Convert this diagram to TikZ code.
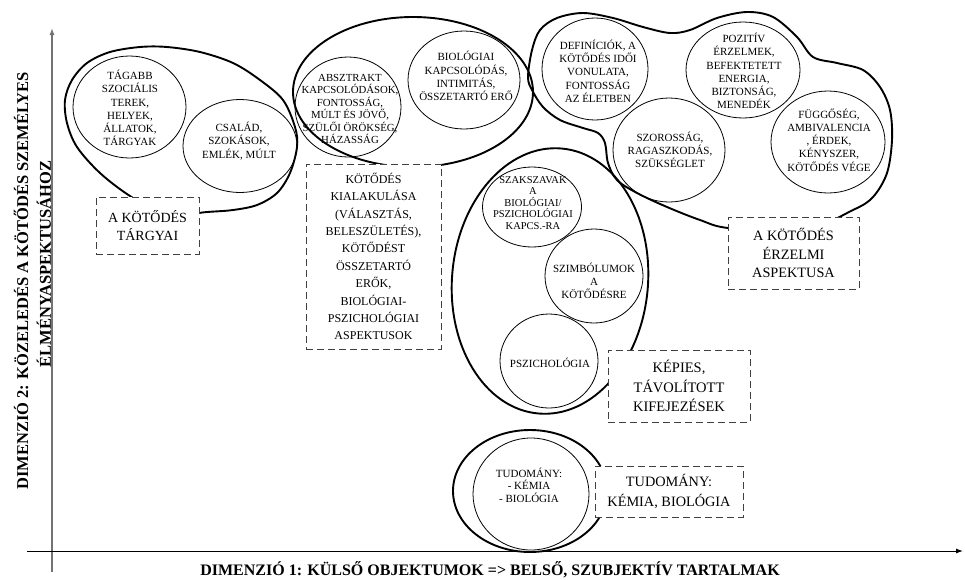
\documentclass[tikz,border=0pt]{standalone}
\usepackage{fontspec}
\setmainfont{Liberation Serif}
\usetikzlibrary{arrows.meta}

\begin{document}
\begin{tikzpicture}[x=1pt,y=-1pt,
		bubble/.style={line width=0.8pt},
		outer/.style={line width=1.9pt},
		inside/.style={align=center,inner sep=0pt,font=\fontsize{11}{13.3}\selectfont},
		note/.style={draw=black!75,dash pattern=on 7pt off 4pt,line width=1pt,fill=white,align=center,inner sep=0pt},
		axis/.style={line width=1pt,-{Latex[length=7pt,width=5pt]}},
		dimlabel/.style={rotate=90,font=\bfseries\fontsize{16.5}{20}\selectfont}]
				\useasboundingbox (0,0) rectangle (965,579);
				
				% axes
				\coordinate (O1) at (27,551);
				\coordinate (X) at (963,551);
				\coordinate (O2) at (52,572);
				\coordinate (Y) at (52,28);
				\draw[axis,black!55,line width=1.3pt] (O2) -- (Y);
				\draw[axis] (O1) -- (X);
				\node[font=\bfseries\fontsize{16}{19}\selectfont,anchor=base] (dimx) at (490,575)
					{DIMENZIÓ 1: KÜLSŐ OBJEKTUMOK => BELSŐ, SZUBJEKTÍV TARTALMAK};
				\node[dimlabel] (dimy) at (21,281) {DIMENZIÓ 2: KÖZELEDÉS A KÖTŐDÉS SZEMÉLYES};
				\node[dimlabel] (dimyb) at (44,264) {ÉLMÉNYASPEKTUSÁHOZ};
				
				% outer groups
				\draw[outer] plot[smooth cycle,tension=0.55] coordinates {(207,212) (233,210) (257,205)
					(277,193) (290,173) (297,147) (295,127) (283,100) (260,80) (233,63) (200,52) (167,47)
					(140,47) (110,52) (87,63) (72,80) (65,100) (67,123) (77,147) (100,173) (130,196) (165,215)};
				\draw[outer] (413,92) ellipse [x radius=120pt, y radius=75pt];
				\draw[outer] plot[smooth cycle,tension=0.55] coordinates {(528,77) (532,50) (540,30) (557,18)
					(583,13) (613,18) (643,27) (670,33) (690,30) (717,18) (747,12) (773,17) (797,37) (813,57)
					(837,63) (863,70) (880,87) (890,110) (892,140) (887,173) (873,197) (853,210) (800,232)
					(728,228) (700,220) (667,207) (637,193) (617,180) (608,163) (605,143) (598,133) (583,128)
					(560,120) (543,107) (532,90)};
				\draw[outer,rotate around={-5:(550,281)}] (550,281) ellipse [x radius=98pt, y radius=133pt];
				\draw[outer] (530,491) ellipse [x radius=77pt, y radius=61pt];
				
				% inner circles
				\foreach \x/\y/\a/\b in
				{129.5/107/56.5/51, 240/146/57/46.5, 348/107/53/50, 464/80/56/49,
				 595/69/53/51, 743/70/57/48, 669/150/56/52, 828/142/57/51,
				 532/207/49.5/40, 594/276/49/47, 549/361/49/47, 531/494/58/56}{
					\draw[bubble] (\x,\y) ellipse [x radius=\a pt, y radius=\b pt];
				}
				
				\node[inside] (tagabb) at (130,108) {TÁGABB\\SZOCIÁLIS\\TEREK,\\HELYEK,\\ÁLLATOK,\\TÁRGYAK};
				\node[inside] (csalad) at (239,141) {CSALÁD,\\SZOKÁSOK,\\EMLÉK, MÚLT};
				\node[inside,font=\fontsize{10.8}{12.4}\selectfont] (absztrakt) at (350,109)
					{ABSZTRAKT\\KAPCSOLÓDÁSOK,\\FONTOSSÁG,\\MÚLT ÉS JÖVŐ,\\SZÜLŐI ÖRÖKSÉG,\\HÁZASSÁG};
				\node[inside] (biologiai) at (466,76) {BIOLÓGIAI\\KAPCSOLÓDÁS,\\INTIMITÁS,\\ÖSSZETARTÓ ERŐ};
				\node[inside] (definiciok) at (598,71) {DEFINÍCIÓK, A\\KÖTŐDÉS IDŐI\\VONULATA,\\FONTOSSÁG\\AZ ÉLETBEN};
				\node[inside] (pozitiv) at (744,71) {POZITÍV\\ÉRZELMEK,\\BEFEKTETETT\\ENERGIA,\\BIZTONSÁG,\\MENEDÉK};
				\node[inside] (szorossag) at (670,150) {SZOROSSÁG,\\RAGASZKODÁS,\\SZÜKSÉGLET};
				\node[inside] (fuggoseg) at (829,140) {FÜGGŐSÉG,\\AMBIVALENCIA\\, ÉRDEK,\\KÉNYSZER,\\KÖTŐDÉS VÉGE};
				\node[inside,font=\fontsize{10.5}{11.5}\selectfont] (szakszavak) at (533,203)
					{SZAKSZAVAK\\A\\BIOLÓGIAI/\\PSZICHOLÓGIAI\\KAPCS.-RA};
				\node[inside] (szimbolumok) at (594,281) {SZIMBÓLUMOK\\A\\KÖTŐDÉSRE};
				\node[inside] (pszichologia) at (550,363) {PSZICHOLÓGIA};
				\node[inside,font=\fontsize{11}{12.5}\selectfont] (tudomany) at (529,485) {TUDOMÁNY:\\- KÉMIA\\- BIOLÓGIA};
				
				% dashed labels
				\node[note,minimum width=103pt,minimum height=57pt,font=\fontsize{14}{18.3}\selectfont]
					(targyai) at (147.5,225.5) {A KÖTŐDÉS\\TÁRGYAI};
				\node[note,minimum width=135pt,minimum height=185pt,font=\fontsize{12}{17.4}\selectfont]
					(kialakulas) at (373.5,256.5) {KÖTŐDÉS\\KIALAKULÁSA\\(VÁLASZTÁS,\\BELESZÜLETÉS),\\KÖTŐDÉST\\ÖSSZETARTÓ\\ERŐK,\\BIOLÓGIAI-\\PSZICHOLÓGIAI\\ASPEKTUSOK};
				\node[note,minimum width=131pt,minimum height=72pt,font=\fontsize{14.3}{18.8}\selectfont]
					(erzelmi) at (793.5,253) {A KÖTŐDÉS\\ÉRZELMI\\ASPEKTUSA};
				\node[note,minimum width=142pt,minimum height=72pt,font=\fontsize{14.5}{19.2}\selectfont]
					(kepies) at (679,386) {KÉPIES,\\TÁVOLÍTOTT\\KIFEJEZÉSEK};
				\node[note,minimum width=148pt,minimum height=51pt,font=\fontsize{14.3}{20}\selectfont]
					(tudbox) at (669,491.5) {TUDOMÁNY:\\KÉMIA, BIOLÓGIA};
			\end{tikzpicture}
\end{document}
